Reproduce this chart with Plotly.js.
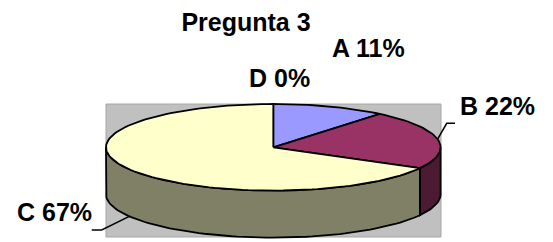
<!DOCTYPE html>
<html>
<head>
<meta charset="utf-8">
<script src="https://cdn.plot.ly/plotly-3.0.1.min.js"></script>
<style>html,body{margin:0;padding:0;background:#fff;}#chart{width:553px;height:242px;}</style>
</head>
<body>
<div id="chart"></div>
<script>
// ---- data ----
const categories = ['A', 'B', 'C', 'D'];
const values = [11, 22, 67, 0];
const topColors = ['#9999FF', '#993366', '#FFFFCC', '#CCFFFF'];
const sideColors = ['#4D4D80', '#4D1A33', '#808066', '#668080'];
const chartTitle = 'Pregunta 3';

// ---- geometry (pixel-like axis units) ----
const W = 553, H = 242;
const cx = 273.3, cy = 147.3, ra = 167.3, rb = 43.3, depth = 47;
const plotBox = {x0: 106, x1: 441, y0: 104, y1: 237};
const labelPos = {A: [368, 47.5], B: [497, 106], C: [54, 212], D: [279, 78]};
const leaderElbow = {B: [[455, 123.3], [446.7, 123.3]], C: [[91.7, 230], [101.7, 230]]};
const fontSize = 25;

const rad = d => d * Math.PI / 180;
const px = t => cx + ra * Math.sin(rad(t));
const py = t => cy - rb * Math.cos(rad(t));

const total = values.reduce((s, v) => s + v, 0);
const slices = [];
let acc = 0;
values.forEach((v, i) => {
  const s = acc / total * 360;
  acc += v;
  const e = acc / total * 360;
  slices.push({s, e, i});
});

function arc(s, e) {
  const xs = [], ys = [];
  const steps = Math.max(2, Math.ceil((e - s) / 2));
  for (let k = 0; k <= steps; k++) {
    const t = s + (e - s) * k / steps;
    xs.push(px(t)); ys.push(py(t));
  }
  return {xs, ys};
}

const traces = [];
// sides (front half only: 90..270)
slices.forEach(sl => {
  const s = Math.max(sl.s, 90), e = Math.min(sl.e, 270);
  if (e <= s) return;
  const a = arc(s, e);
  const xs = a.xs.concat(a.xs.slice().reverse(), [a.xs[0]]);
  const ys = a.ys.concat(a.ys.slice().reverse().map(y => y + depth), [a.ys[0]]);
  traces.push({type: 'scatter', mode: 'lines', x: xs, y: ys, fill: 'toself',
    fillcolor: sideColors[sl.i], line: {color: '#000', width: 1.8}, hoverinfo: 'skip', showlegend: false});
});
// top faces
slices.forEach(sl => {
  if (sl.e - sl.s <= 0) return;
  const a = arc(sl.s, sl.e);
  const xs = [cx].concat(a.xs, [cx]);
  const ys = [cy].concat(a.ys, [cy]);
  traces.push({type: 'scatter', mode: 'lines', x: xs, y: ys, fill: 'toself',
    fillcolor: topColors[sl.i], line: {color: '#000', width: 1.8}, hoverinfo: 'skip', showlegend: false});
});

// plot area and leader lines
const shapes = [{type: 'rect', xref: 'x', yref: 'y', x0: plotBox.x0, x1: plotBox.x1, y0: plotBox.y0, y1: plotBox.y1,
  fillcolor: '#C0C0C0', line: {color: '#A6A6A6', width: 1}, layer: 'below'}];
slices.forEach(sl => {
  const cat = categories[sl.i];
  if (!leaderElbow[cat]) return;
  const mid = (sl.s + sl.e) / 2;
  let ex = px(mid), ey = py(mid);
  if (mid > 90 && mid < 270) ey += depth;
  const pts = leaderElbow[cat].concat([[ex, ey]]);
  const path = 'M ' + pts.map(p => p[0] + ',' + p[1]).join(' L ');
  shapes.push({type: 'path', xref: 'x', yref: 'y', path, line: {color: '#000', width: 1.5}});
});

const annotations = categories.map((c, i) => ({
  xref: 'x', yref: 'y', x: labelPos[c][0], y: labelPos[c][1],
  text: '<b>' + c + ' ' + values[i] + '%</b>', showarrow: false,
  xanchor: 'center', yanchor: 'middle',
  font: {family: 'Arial, "Liberation Sans", sans-serif', size: fontSize, color: '#000'}
}));

const layout = {
  width: W, height: H,
  margin: {l: 0, r: 0, t: 0, b: 0, pad: 0},
  paper_bgcolor: '#fff', plot_bgcolor: 'rgba(0,0,0,0)',
  title: {text: '<b>' + chartTitle + '</b>', x: 246 / W, xanchor: 'center', y: 1 - 22.5 / H, yanchor: 'middle',
    yref: 'container', font: {family: 'Arial, "Liberation Sans", sans-serif', size: fontSize, color: '#000'}},
  xaxis: {range: [0, W], visible: false, fixedrange: true},
  yaxis: {range: [H, 0], visible: false, fixedrange: true},
  shapes, annotations, showlegend: false
};

Plotly.newPlot('chart', traces, layout, {staticPlot: true, displayModeBar: false});
</script>
</body>
</html>
